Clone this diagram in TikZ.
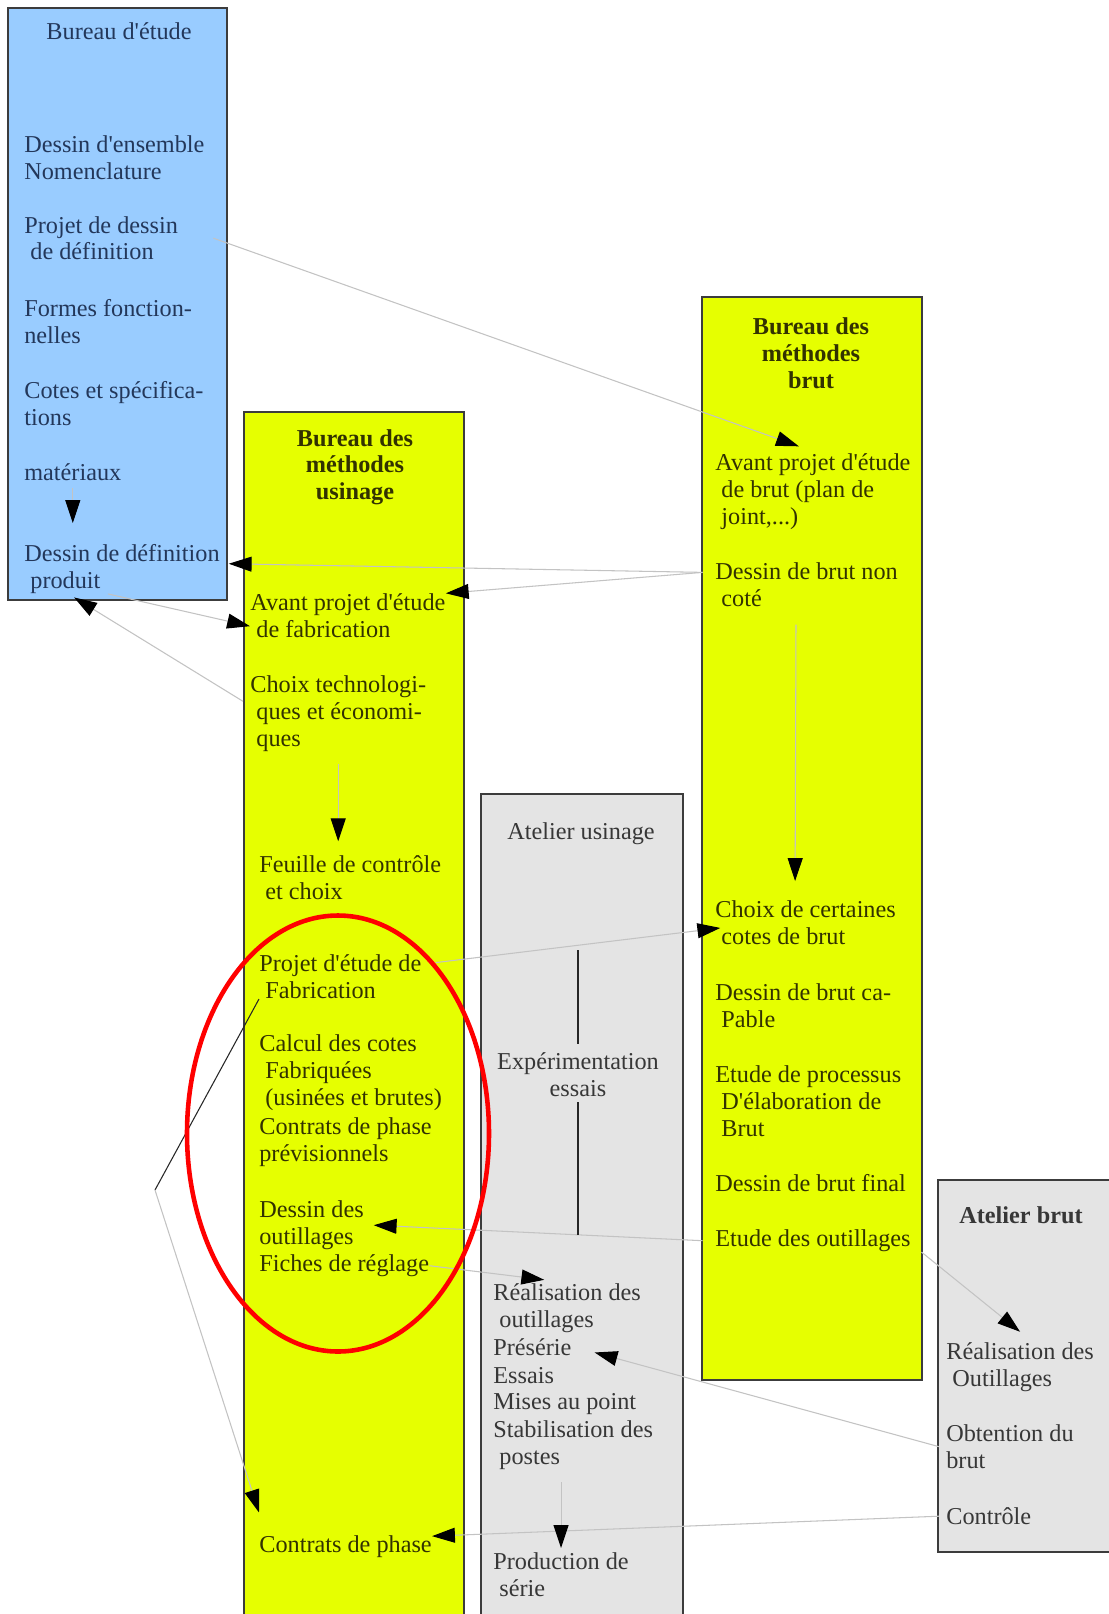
\documentclass[tikz,border=0pt]{standalone}
\usepackage{fontspec}
\setmainfont{Liberation Serif}
\usetikzlibrary{arrows.meta}
\definecolor{bleu}{RGB}{153,204,255}
\definecolor{jaune}{RGB}{230,255,0}
\definecolor{gris}{RGB}{228,228,228}
\definecolor{bord}{RGB}{60,60,60}
\definecolor{trait}{RGB}{195,195,195}
\definecolor{txtbleu}{RGB}{35,55,90}
\definecolor{txtjaune}{RGB}{50,50,0}
\definecolor{txtgris}{RGB}{55,55,55}
\newcommand{\indt}{\hspace*{.25em}}
\newcommand{\apos}{\textquotesingle}

\begin{document}
\begin{tikzpicture}[x=0.02cm, y=-0.02cm,
  box/.style={draw=bord, line width=0.8pt},
  item/.style={anchor=base west, align=left, inner sep=0pt, font=\fontsize{13.8}{15.3}\selectfont},
  titre/.style={anchor=base, align=center, inner sep=0pt, font=\fontsize{13.8}{15.3}\selectfont\bfseries},
  flow/.style={draw=trait, line width=0.6pt, -{Triangle[length=13pt,width=8.5pt,color=black]}},
  dark/.style={draw=black!85, line width=0.6pt}]
  \useasboundingbox (0,0) rectangle (1109,1614);
  \clip (0,0) rectangle (1109,1614);
  \fill[white] (0,0) rectangle (1109,1614);
  \path[box, fill=bleu] (8,8) rectangle (227,600);
  \path[box, fill=jaune] (244,412) rectangle (464,1640);
  \path[box, fill=gris] (481,794) rectangle (683,1640);
  \path[box, fill=jaune] (702,297) rectangle (922,1380);
  \path[box, fill=gris] (938,1180) rectangle (1130,1552);

  \node[titre, font=\fontsize{13.8}{15.3}\selectfont, text=txtbleu] (tbe) at (119,39) {Bureau d\apos étude};
  \node[item, text=txtbleu] (ens) at (24,179.4) {Dessin d\apos ensemble\\Nomenclature};
  \node[item, text=txtbleu] (projdessin) at (24,259.9) {Projet de dessin\\\indt de définition};
  \node[item, text=txtbleu] (formes) at (24,343.4) {Formes fonction-\\nelles};
  \node[item, text=txtbleu] (cotes) at (24,425.4) {Cotes et spécifica-\\tions};
  \node[item, text=txtbleu] (mat) at (24,480.5) {matériaux};
  \node[item, text=txtbleu] (defprod) at (24,588.4) {Dessin de définition\\\indt produit};

  \node[titre, text=txtjaune] (tbmu) at (355,499.8) {Bureau des\\méthodes\\usinage};
  \node[item, text=txtjaune] (avfab) at (250,637.4) {Avant projet d\apos étude\\\indt de fabrication};
  \node[item, text=txtjaune] (choix) at (250,746.3) {Choix technologi-\\\indt ques et économi-\\\indt ques};
  \node[item, text=txtjaune] (feuille) at (259,899.4) {Feuille de contrôle\\\indt et choix};
  \node[item, text=txtjaune] (projfab) at (259,998.4) {Projet d\apos étude de\\\indt Fabrication};
  \node[item, text=txtjaune] (calcul) at (259,1105.3) {Calcul des cotes\\\indt Fabriquées\\\indt (usinées et brutes)};
  \node[item, text=txtjaune] (contprev) at (259,1161.4) {Contrats de phase\\prévisionnels};
  \node[item, text=txtjaune] (dessout) at (259,1244.4) {Dessin des\\outillages};
  \node[item, text=txtjaune] (fiches) at (259,1271.5) {Fiches de réglage};
  \node[item, text=txtjaune] (contrats) at (259,1552.5) {Contrats de phase};

  \node[titre, font=\fontsize{13.8}{15.3}\selectfont, text=txtgris] (tau) at (581,839.5) {Atelier usinage};
  \node[titre, font=\fontsize{13.8}{15.3}\selectfont, text=txtgris] (expe) at (578,1096.4) {Expérimentation\\essais};
  \node[item, text=txtgris] (real) at (493,1327.4) {Réalisation des\\\indt outillages};
  \node[item, text=txtgris] (pres) at (493,1355.5) {Présérie};
  \node[item, text=txtgris] (ess) at (493,1383.5) {Essais};
  \node[item, text=txtgris] (mises) at (493,1409.5) {Mises au point};
  \node[item, text=txtgris] (stab) at (493,1464.4) {Stabilisation des\\\indt postes};
  \node[item, text=txtgris] (prod) at (493,1596.4) {Production de\\\indt série};

  \node[titre, text=txtjaune] (tbmb) at (811,388.3) {Bureau des\\méthodes\\brut};
  \node[item, text=txtjaune] (avbrut) at (715,524.3) {Avant projet d\apos étude\\\indt de brut (plan de\\\indt joint,...)};
  \node[item, text=txtjaune] (nonbrut) at (715,606.4) {Dessin de brut non\\\indt coté};
  \node[item, text=txtjaune] (cert) at (715,944.4) {Choix de certaines\\\indt cotes de brut};
  \node[item, text=txtjaune] (capable) at (715,1027.4) {Dessin de brut ca-\\\indt Pable};
  \node[item, text=txtjaune] (proc) at (715,1136.3) {Etude de processus\\\indt D\apos élaboration de\\\indt Brut};
  \node[item, text=txtjaune] (final) at (715,1191.5) {Dessin de brut final};
  \node[item, text=txtjaune] (etout) at (715,1246.5) {Etude des outillages};

  \node[titre, text=txtgris] (tab) at (1021,1223.5) {Atelier brut};
  \node[item, text=txtgris] (realo) at (946,1386.4) {Réalisation des\\\indt Outillages};
  \node[item, text=txtgris] (obt) at (946,1468.4) {Obtention du\\brut};
  \node[item, text=txtgris] (controle) at (946,1524.5) {Contrôle};

  \coordinate (coude) at (155,1190);
  \coordinate (expehaut) at (578,950);
  \coordinate (expebas) at (578,1235);

  \draw[flow, shorten <=4pt, shorten >=12pt] (mat.south) -- (mat.south |- defprod.north);
  \draw[flow] ([xshift=20pt]projdessin.east) -- ([xshift=-8pt,yshift=4pt]avbrut.north);
  \draw[flow] ([xshift=-7pt,yshift=7pt]nonbrut.west) -- ([xshift=5pt,yshift=3pt]defprod.east);
  \draw[flow] ([xshift=-7pt,yshift=7pt]nonbrut.west) -- (avfab.north east);
  \draw[flow] ([xshift=-8pt]defprod.south) -- ([yshift=-6pt]avfab.west);
  \draw[flow] ([xshift=-4pt,yshift=7pt]choix.west) -- ([xshift=28.5pt,yshift=-2pt]defprod.south west);
  \draw[flow, shorten <=7pt, shorten >=8pt] (choix.south) -- (choix.south |- feuille.north);
  \draw[flow, shorten <=10pt, shorten >=11pt] ([xshift=-6pt]nonbrut.south) -- ([xshift=-6pt]cert.north);
  \draw[flow] ([xshift=8pt,yshift=8pt]projfab.east) -- ([xshift=3pt,yshift=-3pt]cert.west);
  \draw[flow] ([xshift=-7pt]etout.west) -- ([xshift=5.5pt]dessout.east);
  \draw[flow] (fiches.east) -- ([xshift=-13pt,yshift=2pt]real.north);
  \draw[flow] ([xshift=6pt]etout.south east) -- ([yshift=6pt]realo.north);
  \draw[flow] ([xshift=-4pt]obt.west) -- ([xshift=13pt,yshift=-3pt]pres.east);
  \draw[flow] ([xshift=-4pt]controle.west) -- ([yshift=6pt]contrats.east);
  \draw[flow, shorten <=7pt, shorten >=2.5pt] (prod.north |- stab.south) -- (prod.north);
  \draw[dark] (projfab.south west) -- (coude);
  \draw[flow] (coude) -- ([yshift=13pt]contrats.north west);
  \draw[dark, line width=0.8pt, shorten <=5pt] (expe.north) -- (expehaut);
  \draw[dark, line width=0.8pt, shorten <=3pt] (expe.south) -- (expebas);

  \draw[red, line width=2.6pt] (338,1133.5) ellipse [x radius=151, y radius=218];
\end{tikzpicture}
\end{document}
